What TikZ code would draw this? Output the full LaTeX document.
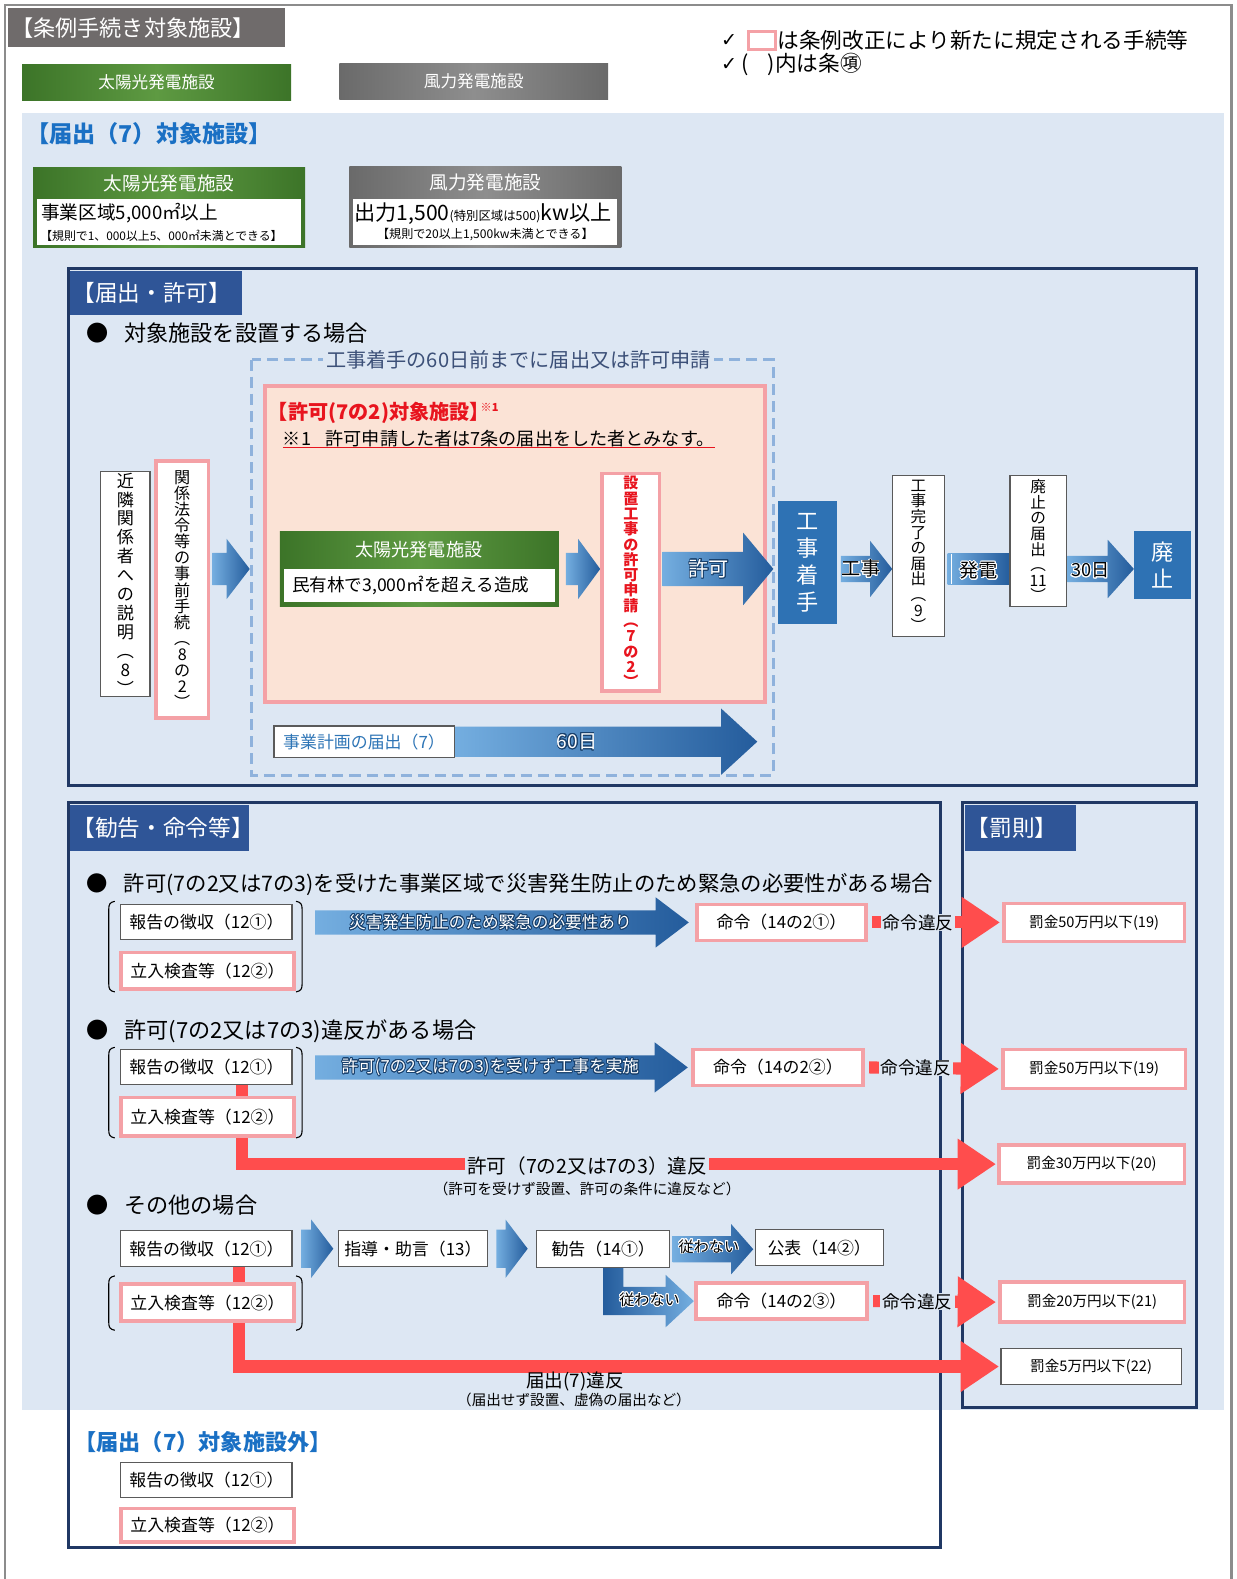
\documentclass[tikz,border=0pt]{standalone}
\usepackage{fontspec}
\setmainfont{Noto Sans CJK JP}
\newfontfamily\dejavu{DejaVu Sans}
\usepackage{contour}
\contourlength{0.8pt}
\contournumber{24}
\usetikzlibrary{calc,arrows.meta}
\pgfdeclarelayer{back}
\pgfdeclarelayer{mid}
\pgfsetlayers{back,mid,main}
\lineskiplimit=-100pt
\definecolor{navy}{HTML}{203864}
\definecolor{tabblue}{HTML}{2F5597}
\definecolor{bgblue}{HTML}{DDE7F3}
\definecolor{pinkb}{HTML}{F4A1A6}
\definecolor{salmon}{HTML}{FBE3D6}
\definecolor{redl}{HTML}{FF4D4D}
\definecolor{redt}{HTML}{E8141E}
\definecolor{greenA}{HTML}{3C7428}
\definecolor{greenB}{HTML}{5E9A42}
\definecolor{grayA}{HTML}{6A6A6A}
\definecolor{grayB}{HTML}{8E8E8E}
\definecolor{hdrgray}{HTML}{6F6B6B}
\definecolor{boxblue}{HTML}{2E72B4}
\definecolor{arrL}{HTML}{74AEE0}
\definecolor{arrR}{HTML}{245C9C}
\definecolor{dashc}{HTML}{8FB2DC}
\definecolor{slate}{HTML}{3C5078}
\definecolor{titleblue}{HTML}{1A70C4}
\definecolor{frameg}{HTML}{8C8C8C}
\definecolor{boxgray}{HTML}{5A5A5A}
\definecolor{txtblue}{HTML}{2E75B6}
\newcommand\fsz[2]{\fontsize{#1}{#2}\selectfont}
\newcommand\boxat[7]{\node[#2,minimum width={(#5)-(#3)},minimum height={(#6)-(#4)}] (#1) at ({((#3)+(#5))/2},{((#4)+(#6))/2}) {#7};}
\newcommand\barrow[7][]{\path[blockarrow,#1] let \p1=#2, \p2=#3, \p3=#4 in (\x1,\y3+#5pt) -- (\x2-#7pt,\y3+#5pt) -- (\x2-#7pt,\y3+#6pt) -- (\x2,\y3) -- (\x2-#7pt,\y3-#6pt) -- (\x2-#7pt,\y3-#5pt) -- (\x1,\y3-#5pt) -- cycle;}
\newcommand\brk[2]{\draw[black,line width=1.1pt] (114,#1) .. controls (109,#1+1) and (108,#1+3) .. (108,#1+8) -- (108,#2-8) .. controls (108,#2-3) and (109,#2-1) .. (114,#2);
 \draw[black,line width=1.1pt] (294,#1) .. controls (299,#1+1) and (300,#1+3) .. (300,#1+8) -- (300,#2-8) .. controls (300,#2-3) and (299,#2-1) .. (294,#2);}
\begin{document}
\begin{tikzpicture}[x=1pt,y=-1pt,
 every node/.style={inner sep=0pt,outer sep=0pt},
 gbox/.style={fill=white,draw=boxgray,line width=1.2pt,font=\fsz{16.8}{18}},
 pbox/.style={fill=white,draw=pinkb,line width=3.5pt,font=\fsz{16.8}{18}},
 fbox/.style={font=\fsz{14.5}{16}},
 vbox/.style={fill=white,draw=boxgray,line width=1.2pt,align=center},
 vpbox/.style={fill=white,draw=pinkb,line width=3.5pt,align=center},
 bluebox/.style={fill=boxblue,text=white,align=center,font=\fsz{22}{27}},
 blockarrow/.style={left color=arrL,right color=arrR},
 redconn/.style={draw=redl,line width=12pt,-{Triangle[length=38pt,width=48pt]}},
 frame/.style={draw=navy,line width=3pt},
 tabtxt/.style={anchor=west,text=white,font=\fsz{22.5}{24}},
 lbl/.style={fill=bgblue,inner xsep=2pt,font=\fsz{17.5}{19}},
 bullet/.style={anchor=west,font=\fsz{22}{24}},
 greenfill/.style={left color=greenA,right color=greenA,middle color=greenB},
 grayfill/.style={left color=grayA,right color=grayA,middle color=grayB},
 wtxt/.style={text=white,font=\fsz{16.5}{18}}
]
\useasboundingbox (0,0) rectangle (1228,1568);
\begin{pgfonlayer}{back}
 \fill[white] (0,0) rectangle (1228,1568);
 \draw[frameg,line width=2.5pt] (5,1590) -- (5,5) -- (1223,5) -- (1223,1590);
 \fill[bgblue] (22,112) rectangle (1215,1400);
 \draw[frame] (68,267) rectangle (1188,780);
 \draw[frame] (68,797) rectangle (934,1537);
 \draw[frame] (956,797) rectangle (1188,1398);
 \draw[dashc,line width=3pt,dash pattern=on 11pt off 6pt] (250,357) rectangle (768,770);
 \boxat{pk}{fill=salmon,draw=pinkb,line width=4pt}{263}{383}{760}{697}{}
\end{pgfonlayer}

% header and buttons
\boxat{hdr}{fill=hdrgray}{8}{8}{283}{47}{}
\node[anchor=west,text=white,font=\fsz{22}{24}] (hdrt) at (11,28) {【条例手続き対象施設】};
\boxat{btnS}{greenfill,text=white,font=\fsz{16.5}{20}}{22}{64}{289}{100}{太陽光発電施設}
\boxat{btnW}{grayfill,text=white,font=\fsz{16.5}{20}}{337}{63}{604}{99}{風力発電施設}

% legend
\node[anchor=west,font=\dejavu\fsz{19}{20}] (chk1) at (716,40) {✓};
\node[draw=pinkb,line width=3pt,fill=white,minimum width=27,minimum height=18] (legbox) at (757,40) {};
\node[anchor=west,font=\fsz{21.5}{24}] (leg1) at (772,40) {は条例改正により新たに規定される手続等};
\node[anchor=west,font=\dejavu\fsz{19}{20}] (chk2) at (716,64) {✓};
\node[anchor=west,font=\fsz{21.5}{24}] (leg2) at (736,64) {(\hspace{0.9em})内は条㊠};

% target facilities
\node[anchor=west,text=titleblue,font=\bfseries\fsz{23}{26}] (ttl) at (26,133) {【届出（7）対象施設】};
\boxat{fS}{greenfill}{33}{166}{303}{246}{}
\node[text=white,font=\fsz{18.5}{20}] (fSh) at (168,182) {太陽光発電施設};
\boxat{fSw}{fill=white}{37}{198}{299}{243}{}
\node[anchor=west,font=\fsz{18.5}{20}] (fS1) at (41,212) {事業区域5,000㎡以上};
\node[anchor=west,font=\fsz{11.8}{13}] (fS2) at (40,234) {【規則で1、000以上5、000㎡未満とできる】};
\boxat{fW}{grayfill}{347}{165}{617}{246}{}
\node[text=white,font=\fsz{18.5}{20}] (fWh) at (482,181) {風力発電施設};
\boxat{fWw}{fill=white}{351}{198}{613}{243}{}
\node[anchor=west,font=\fsz{21}{22}] (fW1) at (352,212) {出力1,500{\fsz{12.3}{13}(特別区域は500)}kw以上};
\node[font=\fsz{12}{13}] (fW2) at (482,233) {【規則で20以上1,500kw未満とできる】};

% ===== 届出・許可 =====
\boxat{tab1}{fill=tabblue}{70}{269}{240}{313}{}
\node[tabtxt] (tab1t) at (72,291) {【届出・許可】};
\node[bullet] (b0) at (86,331) {●\hspace{0.7em}対象施設を設置する場合};
\node[fill=bgblue,inner xsep=3pt,text=slate,font=\fsz{20}{22}] (dlab) at (515,357) {工事着手の60日前までに届出又は許可申請};

\node[anchor=west,text=redt,font=\bfseries\fsz{20}{22}] (pkt) at (266,410) {【許可(7の2)対象施設】\hspace{-0.45em}\raisebox{0.7ex}{\fsz{11}{11}※1}};
\node[anchor=west,font=\fsz{18}{20}] (pkn) at (281,436) {※1\hspace{0.8em}許可申請した者は7条の届出をした者とみなす。};
\draw[redt,line width=0.9pt] (pkn.south west) -- (pkn.south east);

\boxat{gS}{greenfill}{278}{528}{555}{602}{}
\node[text=white,font=\fsz{18}{20}] (gSh) at (416,546) {太陽光発電施設};
\boxat{gSw}{fill=white}{282}{565}{551}{598}{}
\node[anchor=west,font=\fsz{17.5}{20}] (gS1) at (290,581) {民有林で3,000㎡を超える造成};

\boxat{nb}{vbox,font=\fsz{17}{18.8}}{100}{468}{149}{692}{近\\隣\\関\\係\\者\\へ\\の\\説\\明\\︵\\8\\︶}
\boxat{law}{vpbox,font=\fsz{16}{16}}{155}{458}{207}{713}{関\\係\\法\\令\\等\\の\\事\\前\\手\\続\\︵\\8\\の\\2\\︶}
\boxat{app}{vpbox,text=redt,font=\bfseries\fsz{15}{15.2}}{598}{470}{655}{686}{設\\置\\工\\事\\の\\許\\可\\申\\請\\︵\\7\\の\\2\\︶}
\boxat{start}{bluebox}{773}{498}{831}{620}{工\\事\\着\\手}
\boxat{done}{vbox,font=\fsz{15.5}{15.5}}{886}{472}{938}{632}{工\\事\\完\\了\\の\\届\\出\\︵\\9\\︶}
\boxat{abn}{vbox,font=\fsz{15.5}{15.5}}{1003}{472}{1059}{602}{廃\\止\\の\\届\\出\\︵\\11\\︶}
\boxat{stop}{bluebox}{1126}{527}{1183}{595}{廃\\止}
\boxat{plan}{gbox,text=txtblue}{272}{721}{451}{752}{事業計画の届出（7）}
\coordinate (axis) at (0,565);
\coordinate (t60) at (752,737);

% ===== 勧告・命令等 / 罰則 =====
\boxat{tab2}{fill=tabblue}{70}{799}{247}{845}{}
\node[tabtxt] (tab2t) at (72,822) {【勧告・命令等】};
\boxat{tab3}{fill=tabblue}{958}{799}{1068}{845}{}
\node[tabtxt] (tab3t) at (960,822) {【罰則】};

\node[bullet,font=\fsz{21.2}{24}] (b1) at (86,878) {●\hspace{0.75em}許可(7の2又は7の3)を受けた事業区域で災害発生防止のため緊急の必要性がある場合};
\brk{895}{985}
\boxat{r1a}{gbox}{120}{898}{290}{933}{報告の徴収（12①）}
\boxat{r1b}{pbox}{120}{946}{292}{982}{立入検査等（12②）}
\boxat{o1}{pbox}{692}{898}{860}{934}{命令（14の2①）}
\boxat{f1}{pbox,fbox}{997}{897}{1176}{935}{罰金50万円以下(19)}
\coordinate (s1) at (313,916);

\node[bullet] (b2) at (86,1024) {●\hspace{0.7em}許可(7の2又は7の3)違反がある場合};
\brk{1040}{1130}
\boxat{r2a}{gbox}{120}{1042}{290}{1077}{報告の徴収（12①）}
\boxat{r2b}{pbox}{120}{1090}{292}{1128}{立入検査等（12②）}
\boxat{o2}{pbox}{688}{1042}{857}{1078}{命令（14の2②）}
\boxat{f2}{pbox,fbox}{996}{1042}{1177}{1081}{罰金50万円以下(19)}
\boxat{f3}{pbox,fbox}{992}{1137}{1176}{1175}{罰金30万円以下(20)}
\coordinate (s2) at (313,1060);

\node[bullet] (b3) at (86,1197) {●\hspace{0.7em}その他の場合};
\brk{1267}{1321}
\boxat{r3a}{gbox}{120}{1222}{290}{1258}{報告の徴収（12①）}
\boxat{r3b}{pbox}{120}{1275}{292}{1312}{立入検査等（12②）}
\boxat{guide}{gbox}{336}{1222}{484}{1258}{指導・助言（13）}
\boxat{adv}{gbox}{533}{1222}{665}{1259}{勧告（14①）}
\boxat{pub}{gbox}{750}{1221}{877}{1257}{公表（14②）}
\boxat{o3}{pbox}{691}{1274}{861}{1310}{命令（14の2③）}
\boxat{f4}{pbox,fbox}{993}{1273}{1176}{1313}{罰金20万円以下(21)}
\boxat{f5}{gbox,fbox}{994}{1339}{1173}{1375}{罰金5万円以下(22)}

\node[anchor=west,text=titleblue,font=\bfseries\fsz{22}{24}] (ttl2) at (74,1432) {【届出（7）対象施設外】};
\boxat{e1}{gbox}{120}{1452}{290}{1487}{報告の徴収（12①）}
\boxat{e2}{pbox}{120}{1498}{292}{1531}{立入検査等（12②）}

% ===== connectors =====
\begin{pgfonlayer}{mid}
 \barrow{($(law.east |- axis)+(4,0)$)}{($(pk.west |- axis)+(-15,0)$)}{(axis)}{16}{30}{23}
 \barrow{($(gS.east |- axis)+(7,0)$)}{($(app.west |- axis)+(-2,0)$)}{(axis)}{16}{30}{22}
 \barrow{($(app.east |- axis)+(3,0)$)}{($(start.west |- axis)+(-5,0)$)}{(axis)}{17}{36}{30}
 \node[text=white,font=\fsz{20}{22}] (lkyoka) at (704,565) {\contour{arrR!70!black}{許可}};
 \barrow{($(start.east |- axis)+(4,0)$)}{(done.west |- axis)}{(axis)}{13}{28}{22}
 \node[font=\fsz{19}{20}] (lkoji) at (855,565) {\contour{white}{工事}};
 \path[blockarrow] let \p1=(done.east |- axis), \p2=(abn.west |- axis) in (\x1+3pt,\y1+15pt) rectangle (\x2,\y2-15pt);
 \draw[white,line width=1pt] let \p1=(done.east |- axis) in (\x1+7pt,\y1+15pt) -- (\x1+7pt,\y1-15pt);
 \node[font=\fsz{19}{20}] (lhatsu) at (972,567) {\contour{white}{発電}};
 \barrow{($(abn.east |- axis)+(1,0)$)}{(stop.west |- axis)}{(axis)}{13}{29}{26}
 \node[font=\fsz{18}{20}] (l30) at (1083,567) {\contour{white}{30日}};
 \barrow{(plan.east)}{(t60)}{(plan.east)}{15}{33}{36}
 \node[text=white,font=\fsz{19}{20}] (l60) at (573,737) {\contour{arrR!70!black}{60日}};

 \barrow{(s1)}{($(o1.west)+(-8,0)$)}{(s1)}{12}{25}{33}
 \node[text=white,font=\fsz{16.5}{18}] (la1) at (487,916) {\contour{arrR!70!black}{災害発生防止のため緊急の必要性あり}};
 \draw[redconn] ($(o1.east)+(6,0)$) -- ($(f1.west)+(-4,0)$) node[lbl,pos=0.36] (v1) {命令違反};

 \barrow{(s2)}{($(o2.west)+(-5,0)$)}{(s2)}{12}{25}{33}
 \node[text=white,font=\fsz{16.5}{18}] (la2) at (487,1060) {\contour{arrR!70!black}{許可(7の2又は7の3)を受けず工事を実施}};
 \draw[redconn] ($(o2.east)+(6,0)$) -- ($(f2.west)+(-4,0)$) node[lbl,pos=0.36] (v2) {命令違反};
 \draw[redconn] ($(r2a.south)+(35,0)$) |- ($(f3.west)+(-3,0)$);
 \node[lbl,font=\fsz{19.5}{21}] (v2l) at (583,1158) {許可（7の2又は7の3）違反};
 \node[font=\fsz{14.5}{16}] (v2s) at (583,1181) {（許可を受けず設置、許可の条件に違反など）};

 \barrow{($(r3a.east)+(9,0)$)}{($(guide.west)+(-5,0)$)}{(r3a.east)}{19}{29}{22}
 \barrow{($(guide.east)+(9,0)$)}{($(adv.west)+(-9,0)$)}{(guide.east)}{19}{29}{22}
 \barrow{($(adv.east)+(3,0)$)}{($(pub.west)+(-2,0)$)}{(adv.east)}{13}{25}{22}
 \node[font=\fsz{15}{17}] (lsh1) at (704,1238) {\contour{white}{従わない}};
 \path[left color=arrR,right color=arrL] let \p1=(adv.south), \p2=(o3.west) in (\x1,\y1) -- (\x1+20pt,\y1) -- (\x1+20pt,\y2+14pt) -- (\x2-30pt,\y2+14pt) -- (\x2-30pt,\y2+26pt) -- (\x2-2pt,\y2) -- (\x2-30pt,\y2-26pt) -- (\x2-30pt,\y2-14pt) -- (\x1,\y2-14pt) -- cycle;
 \node[font=\fsz{15}{17}] (lsh2) at (645,1291) {\contour{white}{従わない}};
 \draw[redconn] ($(o3.east)+(6,0)$) -- ($(f4.west)+(-4,0)$) node[lbl,pos=0.36] (v3) {命令違反};
 \draw[redconn] ($(r3a.south)+(32,0)$) |- ($(f5.west)+(-2,0)$);
 \node[font=\fsz{18.5}{20}] (v3l) at (571,1372) {届出(7)違反};
 \node[font=\fsz{14.5}{16}] (v3s) at (570,1390) {（届出せず設置、虚偽の届出など）};
\end{pgfonlayer}
\end{tikzpicture}
\end{document}
